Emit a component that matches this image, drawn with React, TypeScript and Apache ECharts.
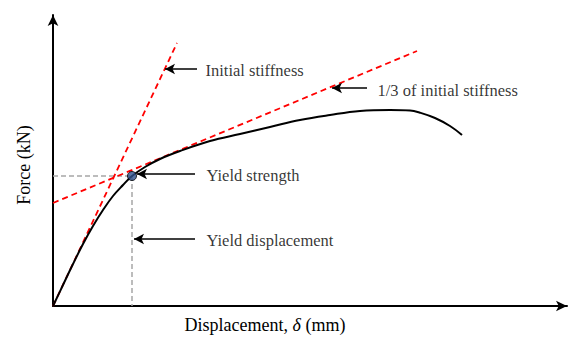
import React, { useEffect, useRef } from "react";
import * as echarts from "echarts";

// Force–displacement curve (arbitrary units)
const curveX = [0, 10, 20, 30, 40, 50, 60, 70, 79, 92, 107, 127, 157, 187, 217, 247, 277, 307, 337, 357, 367, 382, 397, 409];
const curveY = [0, 21, 42, 62, 80, 96, 110, 121, 130, 139, 147, 155, 165, 172, 179, 186, 191, 195, 196, 195.5, 193.3, 188, 180, 171];

const initialStiffness = [[0, 0], [124, 263]];
const thirdStiffness = [[0, 103], [364, 255]];
const yieldPoint = [79, 130];

const annotationTexts = ["Initial stiffness", "1/3 of initial stiffness", "Yield strength", "Yield displacement"];
const annotationPos = [[152, 235.5], [324, 216], [153, 131], [153, 66]];
const arrowFrom = [[144, 237], [314, 218], [142, 132], [142, 67]];
const arrowTo = [[112, 237], [279, 218], [84, 132], [81, 67]];

const xMax = 514;
const yMax = 291;
const xTitle = "Displacement, {i|δ} (mm)";
const yTitle = "Force (kN)";

const FONT = "Liberation Serif";

export default function App() {
  const ref = useRef<HTMLDivElement>(null);
  useEffect(() => {
    if (!ref.current) return;
    const chart = echarts.init(ref.current, undefined, { renderer: "svg" });
    const curve = curveX.map((x, i) => [x, curveY[i]]);
    const axisCommon = {
      type: "value" as const,
      axisTick: { show: false },
      axisLabel: { show: false },
      splitLine: { show: false },
      axisLine: {
        show: true,
        onZero: false,
        symbol: ["none", "arrow"],
        symbolSize: [8, 11],
        lineStyle: { color: "#000", width: 2 },
      },
    };
    chart.setOption({
      animation: false,
      grid: { left: 53, right: 8, top: 15, bottom: 32, containLabel: false },
      xAxis: { ...axisCommon, min: 0, max: xMax },
      yAxis: { ...axisCommon, min: 0, max: yMax },
      graphic: [
        {
          type: "text",
          x: 265,
          y: 325,
          style: {
            text: xTitle,
            fontFamily: FONT,
            fontSize: 18,
            fill: "#000",
            align: "center",
            verticalAlign: "middle",
            rich: { i: { fontStyle: "italic", fontFamily: FONT, fontSize: 18 } },
          },
        },
        {
          type: "text",
          x: 24,
          y: 165,
          rotation: Math.PI / 2,
          style: {
            text: yTitle,
            fontFamily: FONT,
            fontSize: 18,
            fill: "#000",
            align: "center",
            verticalAlign: "middle",
          },
        },
      ],
      series: [
        {
          type: "line",
          data: [[0, yieldPoint[1]], yieldPoint],
          symbol: "none",
          lineStyle: { color: "#a6a6a6", width: 1.5, type: [5, 3] },
          z: 1,
        },
        {
          type: "line",
          data: [yieldPoint, [yieldPoint[0], 0]],
          symbol: "none",
          lineStyle: { color: "#a6a6a6", width: 1.5, type: [5, 3] },
          z: 1,
        },
        {
          type: "line",
          data: initialStiffness,
          symbol: "none",
          lineStyle: { color: "#ff0000", width: 1.8, type: [6, 4] },
          z: 2,
        },
        {
          type: "line",
          data: thirdStiffness,
          symbol: "none",
          lineStyle: { color: "#ff0000", width: 1.8, type: [6, 4] },
          z: 2,
        },
        {
          type: "line",
          data: curve,
          symbol: "none",
          smooth: 0.4,
          lineStyle: { color: "#000", width: 2 },
          z: 3,
          markLine: {
            silent: true,
            symbol: ["none", "arrow"],
            symbolSize: [8, 10],
            label: { show: false },
            lineStyle: { color: "#000", width: 1.5, type: "solid" },
            data: arrowFrom.map((f, i) => [{ coord: f }, { coord: arrowTo[i] }]),
          },
        },
        {
          type: "scatter",
          data: [yieldPoint],
          symbolSize: 9,
          itemStyle: { color: "#2f528f", borderColor: "#000", borderWidth: 1 },
          z: 5,
        },
        {
          type: "scatter",
          data: annotationPos.map((p, i) => ({ value: p, name: annotationTexts[i] })),
          symbolSize: 1,
          itemStyle: { color: "rgba(0,0,0,0)" },
          label: {
            show: true,
            position: "right",
            distance: 0,
            formatter: (p: any) => p.name,
            fontFamily: FONT,
            fontSize: 16.5,
            color: "#000",
          },
          z: 6,
        },
      ],
    });
    return () => chart.dispose();
  }, []);
  return <div ref={ref} style={{ width: 575, height: 338, position: "absolute", left: 0, top: 0 }} />;
}
